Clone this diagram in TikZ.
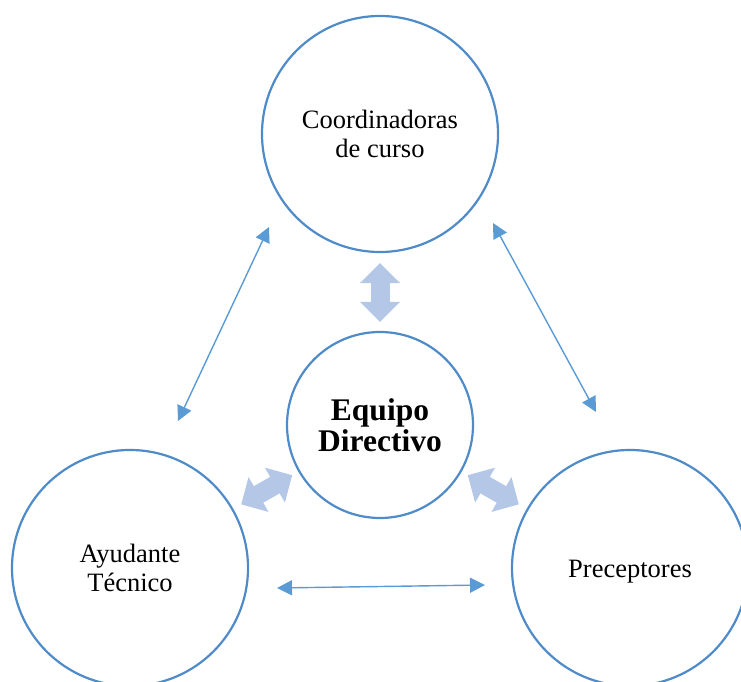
\documentclass[tikz,border=0pt]{standalone}
\usepackage{fontspec}
\setmainfont{Liberation Serif}
\usetikzlibrary{arrows.meta}

\definecolor{circblue}{HTML}{4F8BC9}
\definecolor{linkblue}{HTML}{5B9BD5}
\definecolor{fatblue}{HTML}{B4C7E7}

\begin{document}
\begin{tikzpicture}[x=1pt,y=1pt,>={Triangle[length=15pt,width=15pt]}]

	\tikzstyle{role}=[circle,draw=circblue,line width=2.2pt,minimum size=236pt,inner sep=0pt,align=center,font=\fontsize{26.5}{29}\selectfont]
	\tikzstyle{link}=[<->,draw=linkblue,fill=linkblue,line width=1.4pt]
	\tikzstyle{fat}=[{Triangle[width=39pt,length=20pt]}-{Triangle[width=39pt,length=20pt]},draw=fatblue,line width=19pt]

	\useasboundingbox (0,0) rectangle (741,682);

	\node [role] (coord) at (380,548) {Coordinadoras\\de curso};
	\node [role,minimum size=186pt,font=\bfseries\fontsize{31.5}{31}\selectfont] (equipo) at (380,257) {Equipo\\Directivo};
	\node [role] (ayud) at (130,114) {Ayudante\\T\'ecnico};
	\node [role,text height=20pt,text depth=0pt] (prec) at (630,114) {Preceptores};

	% thick arrows to the centre
	\draw [fat,shorten <=10pt,shorten >=9pt] (coord) -- (equipo);
	\draw [fat,shorten <=7pt,shorten >=9pt] (equipo) -- (ayud);
	\draw [fat,shorten <=7pt,shorten >=9pt] (equipo) -- (prec);

	% thin arrows between the outer circles
	\coordinate (c1) at (269,455);
	\coordinate (a1) at (178,261);
	\coordinate (c2) at (493,459);
	\coordinate (p1) at (596,270);
	\coordinate (a2) at (277,94);
	\coordinate (p2) at (485,97);
	\draw [link] (c1) -- (a1);
	\draw [link] (c2) -- (p1);
	\draw [link] (a2) -- (p2);

\end{tikzpicture}
\end{document}
